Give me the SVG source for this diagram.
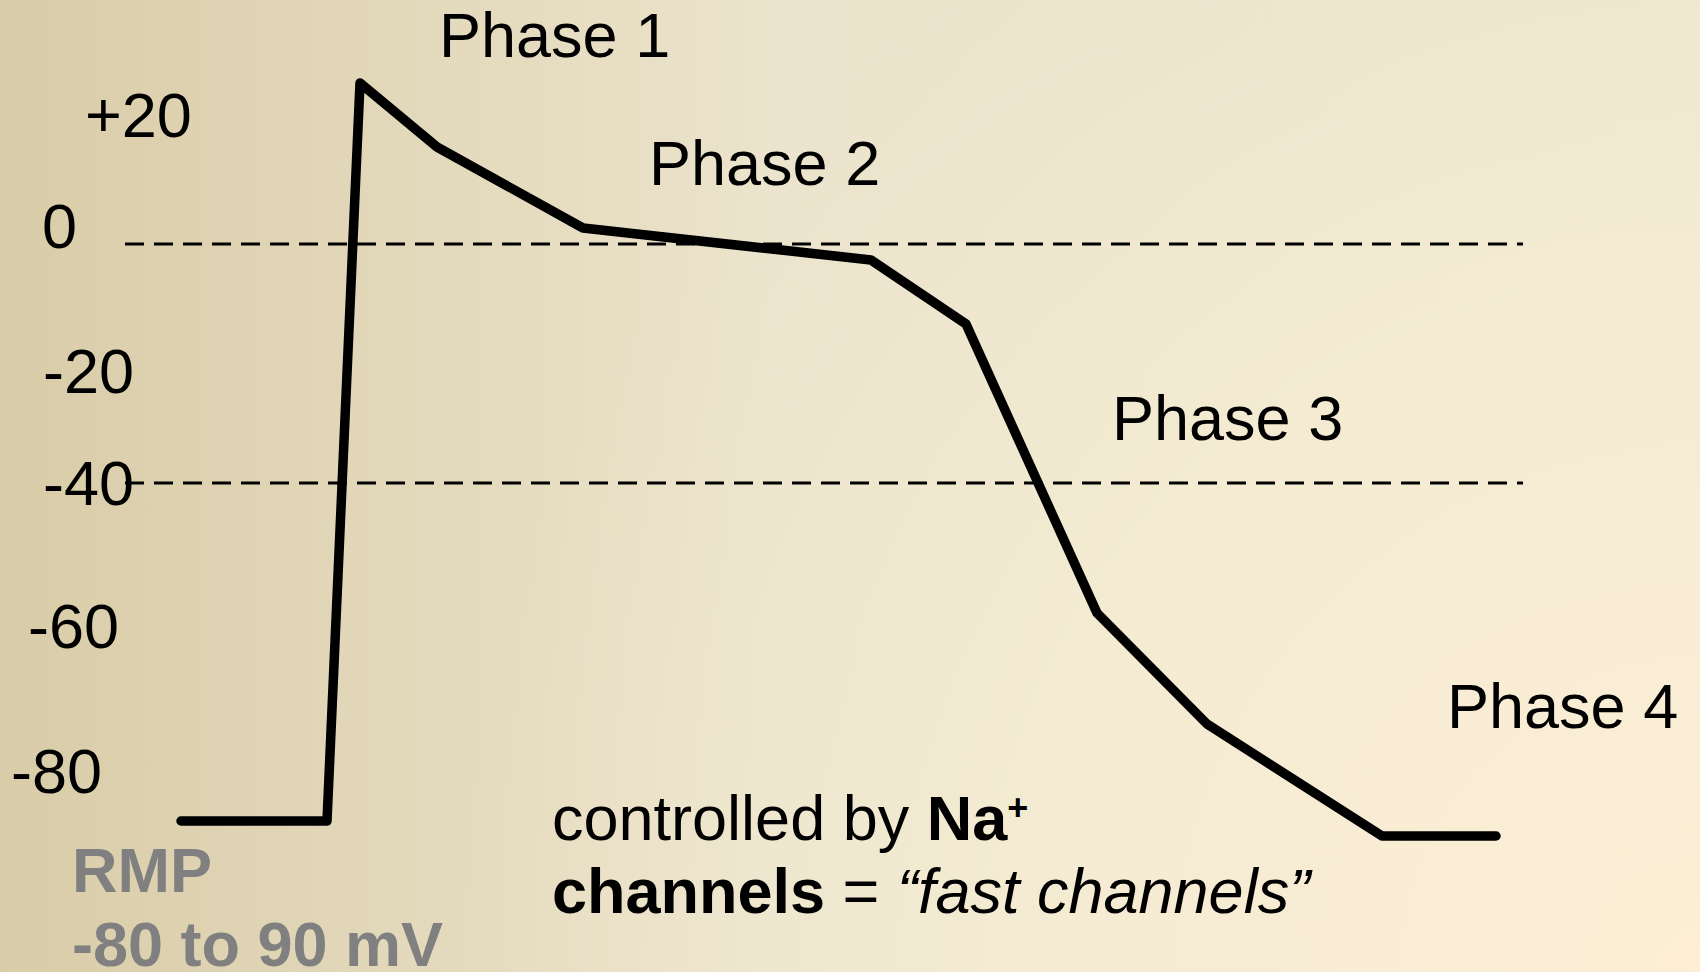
<svg xmlns="http://www.w3.org/2000/svg" width="1700" height="972" viewBox="0 0 1700 972">
  <defs>
    <linearGradient id="bgBase" x1="0" y1="0" x2="1" y2="0">
      <stop offset="0" stop-color="#d9cca8"/>
      <stop offset="0.45" stop-color="#ebe3cb"/>
      <stop offset="1" stop-color="#ece5cc"/>
    </linearGradient>
    <radialGradient id="bgGlow" cx="1700" cy="972" r="1250" gradientUnits="userSpaceOnUse">
      <stop offset="0" stop-color="#fdeed5" stop-opacity="1"/>
      <stop offset="0.55" stop-color="#f8eed6" stop-opacity="0.7"/>
      <stop offset="1" stop-color="#f3ead3" stop-opacity="0"/>
    </radialGradient>
    <style>
      .lbl { font-family: "Liberation Sans", Arial, sans-serif; font-size: 63px; fill: #000; }
      .rmp { font-family: "Liberation Sans", Arial, sans-serif; font-size: 63px; font-weight: bold; fill: #808080; }
      .grid { stroke: #000; stroke-width: 3; stroke-dasharray: 19 10; fill: none; }
      .trace { stroke: #000; stroke-width: 9.5; fill: none; stroke-linejoin: round; stroke-linecap: round; }
    </style>
  </defs>

  <!-- background -->
  <rect x="0" y="0" width="1700" height="972" fill="url(#bgBase)"/>
  <rect x="0" y="0" width="1700" height="972" fill="url(#bgGlow)"/>

  <!-- reference levels at 0 and -40 mV -->
  <g id="gridlines">
    <line class="grid" x1="125" y1="244" x2="1523" y2="244"/>
    <line class="grid" x1="125" y1="483" x2="1523" y2="483"/>
  </g>

  <!-- axis values -->
  <g id="axis-labels">
    <text class="lbl" x="85" y="137">+20</text>
    <text class="lbl" x="42" y="248">0</text>
    <text class="lbl" x="43" y="393">-20</text>
    <text class="lbl" x="43" y="505">-40</text>
    <text class="lbl" x="28" y="648">-60</text>
    <text class="lbl" x="11" y="793">-80</text>
  </g>

  <!-- action potential trace -->
  <g id="connectors">
    <polyline class="trace" points="181,821 327,821 360,83 437,147 583,228 871,260 966,324 1097,613 1207,724 1382,836 1496,836"/>
  </g>

  <!-- phase labels -->
  <g id="phase-1"><text class="lbl" x="439" y="57">Phase 1</text></g>
  <g id="phase-2"><text class="lbl" x="649" y="185">Phase 2</text></g>
  <g id="phase-3"><text class="lbl" x="1112" y="440">Phase 3</text></g>
  <g id="phase-4"><text class="lbl" x="1447" y="728">Phase 4</text></g>

  <!-- resting membrane potential note -->
  <g id="rmp">
    <text class="rmp" x="72" y="892">RMP</text>
    <text class="rmp" x="72" y="966">-80 to 90 mV</text>
  </g>

  <!-- phase 0 note -->
  <g id="na-note">
    <text class="lbl" x="552" y="840">controlled by <tspan font-weight="bold">Na</tspan><tspan font-size="36" font-weight="bold" dy="-20">+</tspan></text>
    <text class="lbl" x="552" y="913"><tspan font-weight="bold">channels</tspan> = <tspan font-style="italic">“fast channels”</tspan></text>
  </g>
</svg>
